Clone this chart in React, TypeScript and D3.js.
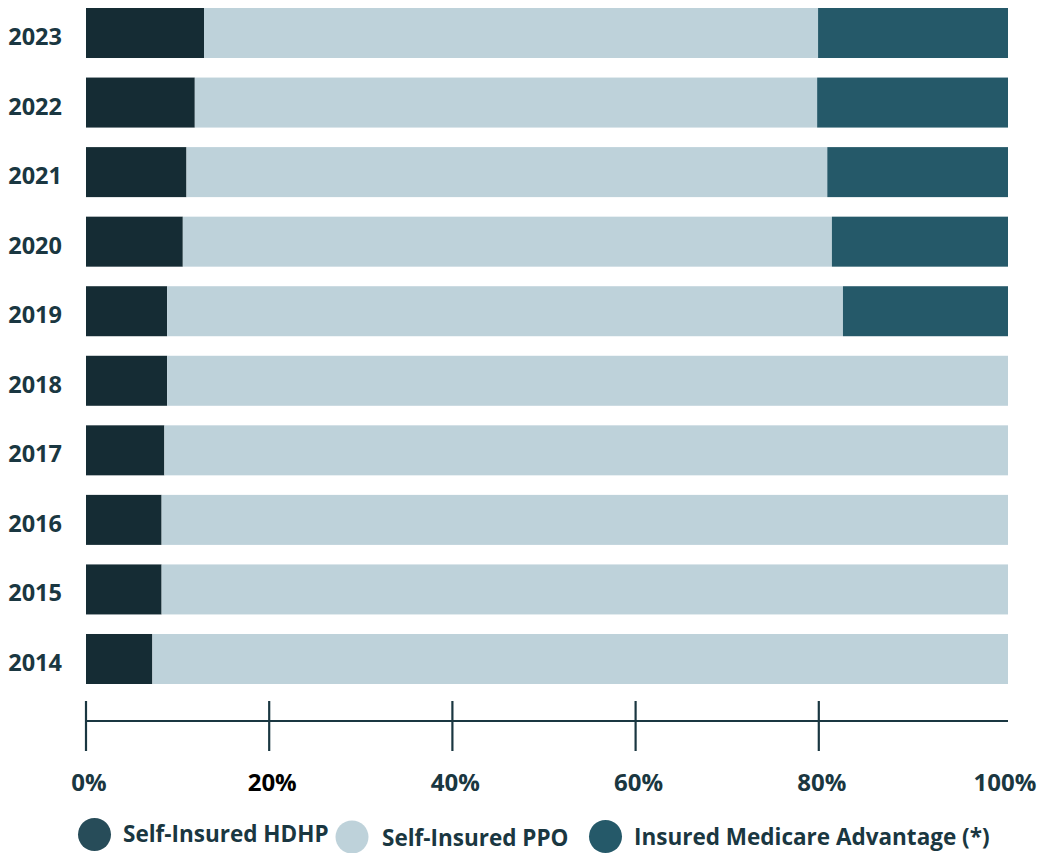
import React from "react";
import * as d3 from "d3";

const years = ["2023", "2022", "2021", "2020", "2019", "2018", "2017", "2016", "2015", "2014"];
const hdhp = [12.8, 11.8, 10.9, 10.5, 8.8, 8.8, 8.5, 8.2, 8.2, 7.2];
const medicareAdv = [20.6, 20.7, 19.6, 19.1, 17.9, 0, 0, 0, 0, 0];
const ppo = hdhp.map((h, i) => 100 - h - medicareAdv[i]);
const tickValues = [0, 20, 40, 60, 80, 100];
const tickLabels = ["0%", "20%", "40%", "60%", "80%", "100%"];
const seriesNames = ["Self-Insured HDHP", "Self-Insured PPO", "Insured Medicare Advantage (*)"];

const BAR_COLORS = ["#152c34", "#bed2da", "#255969"];
const LEGEND_COLORS = ["#274c59", "#bed2da", "#255969"];
const TEXT = "#1a3741";
const FONT = "'Open Sans', Lato, sans-serif";

export default function App() {
  const W = 1041, H = 853;
  const x = d3.scaleLinear().domain([0, 100]).range([86, 1008]);
  const xAxis = d3.scaleLinear().domain([0, 100]).range([86, 1002]);
  const y = d3.scaleBand<string>().domain(years).range([8, 684]).paddingInner(0.281).paddingOuter(0);
  const rows = years.map((yr, i) => ({ yr, vals: [hdhp[i], ppo[i], medicareAdv[i]] }));
  const stackSegs = rows.map((r) => {
    let acc = 0;
    return r.vals.map((v, k) => {
      const s = { x0: acc, x1: acc + v, k };
      acc += v;
      return s;
    });
  });
  const axisY = 721;
  const legendLayout = [
    { cx: 94.5, cy: 834.5, tx: 123, ty: 842 },
    { cx: 352, cy: 837, tx: 382, ty: 846 },
    { cx: 605.5, cy: 836.5, tx: 634, ty: 845 },
  ];
  return (
    <svg width={W} height={H} style={{ position: "absolute", left: 0, top: 0 }}>
      <rect width={W} height={H} fill="#ffffff" />
      {rows.map((r, i) => (
        <g key={r.yr}>
          {stackSegs[i].filter((s) => s.x1 > s.x0).map((s) => (
            <rect
              key={s.k}
              x={x(s.x0)}
              y={y(r.yr)!}
              width={x(s.x1) - x(s.x0)}
              height={y.bandwidth()}
              fill={BAR_COLORS[s.k]}
            />
          ))}
          <text
            x={62}
            y={y(r.yr)! + y.bandwidth() / 2 + 3}
            textAnchor="end"
            dominantBaseline="central"
            fontFamily={FONT}
            fontWeight={700}
            fontSize={23.5}
            fill={TEXT}
          >
            {r.yr}
          </text>
        </g>
      ))}
      <line x1={x(0)} x2={x(100)} y1={axisY} y2={axisY} stroke={TEXT} strokeWidth={2.2} />
      {tickValues.filter((v) => v < 100).map((v) => (
        <line key={v} x1={xAxis(v)} x2={xAxis(v)} y1={axisY - 20} y2={axisY + 30} stroke={TEXT} strokeWidth={2.2} />
      ))}
      {tickValues.map((v, i) => (
        <text
          key={v}
          x={xAxis(v) + 3}
          y={781}
          textAnchor="middle"
          dominantBaseline="central"
          fontFamily={FONT}
          fontWeight={700}
          fontSize={24}
          fill={v === 20 ? "#000000" : TEXT}
        >
          {tickLabels[i]}
        </text>
      ))}
      {seriesNames.map((n, i) => (
        <g key={n}>
          <circle cx={legendLayout[i].cx} cy={legendLayout[i].cy} r={16.5} fill={LEGEND_COLORS[i]} />
          <text x={legendLayout[i].tx} y={legendLayout[i].ty} fontFamily={FONT} fontWeight={700} fontSize={22.5} fill={TEXT}>
            {n}
          </text>
        </g>
      ))}
    </svg>
  );
}
